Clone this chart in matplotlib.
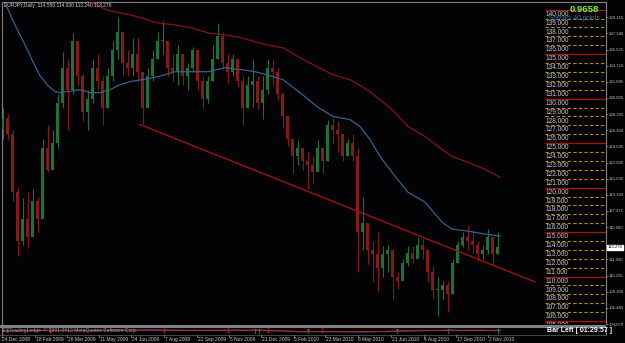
import matplotlib
matplotlib.use("Agg")
import matplotlib.pyplot as plt
from matplotlib.patches import Rectangle
from matplotlib.lines import Line2D

# ---------------- data (EURJPY, weekly-grouped candles) ----------------
first_open = 126.5
closes = [127.8, 126.0, 119.5, 114.0, 116.5, 114.5, 118.5, 116.5, 124.5, 122.0,
          125.0, 129.5, 133.5, 131.0, 136.5, 132.5, 128.5, 130.0, 133.5, 132.0,
          129.0, 132.5, 135.5, 137.5, 134.0, 133.5, 135.0, 133.0, 129.0, 132.5,
          134.5, 136.5, 136.5, 133.5, 133.0, 135.0, 132.5, 133.5, 135.5, 132.0,
          130.0, 132.0, 134.5, 137.0, 134.0, 133.0, 134.5, 132.0, 129.0, 131.5,
          132.0, 129.5, 131.0, 133.5, 133.0, 130.5, 128.0, 125.5, 123.5, 124.5,
          123.0, 122.5, 121.8, 124.5, 123.0, 127.0, 126.5, 126.0, 123.5, 125.0,
          123.5, 115.0, 116.0, 113.0, 112.5, 111.0, 112.5, 113.0, 110.0, 109.5,
          111.5, 112.7, 112.0, 113.5, 113.0, 110.5, 108.5, 108.5, 109.0, 108.0,
          111.5, 113.5, 114.5, 114.0, 113.5, 112.5, 113.0, 114.5, 112.5, 113.3]
highs = [128.9, 128.3, 126.5, 120.0, 118.8, 119.5, 119.8, 119.0, 125.5, 127.0,
         126.5, 130.5, 135.2, 134.5, 137.4, 136.5, 132.8, 131.0, 134.5, 135.0,
         132.5, 133.5, 136.5, 139.2, 137.5, 135.5, 136.8, 136.8, 133.0, 133.5,
         135.5, 137.5, 138.7, 136.5, 135.0, 136.0, 134.5, 134.0, 135.8, 135.5,
         132.5, 132.5, 136.0, 138.5, 137.5, 135.0, 135.0, 134.5, 132.5, 132.5,
         134.4, 132.5, 132.5, 134.5, 134.4, 133.5, 130.7, 127.5, 125.5, 125.3,
         124.5, 124.0, 123.5, 125.3, 124.5, 127.6, 127.8, 127.5, 126.0, 125.5,
         126.0, 124.5, 119.0, 115.0, 114.0, 115.0, 113.4, 113.5, 111.2, 110.5,
         112.0, 113.4, 113.4, 114.5, 114.2, 112.7, 111.2, 110.0, 109.5, 109.5,
         112.0, 114.0, 115.0, 115.7, 115.0, 114.0, 113.5, 115.3, 114.5, 115.0]
lows = [125.5, 125.3, 118.5, 112.3, 113.5, 113.3, 115.0, 115.0, 116.8, 121.8,
        122.5, 124.5, 129.0, 126.5, 130.5, 131.5, 127.5, 126.5, 129.5, 131.0,
        127.0, 129.0, 132.0, 134.5, 132.5, 132.5, 132.5, 132.0, 127.1, 129.5,
        132.0, 134.5, 135.0, 132.5, 132.0, 131.5, 131.5, 131.0, 133.0, 131.0,
        129.0, 129.5, 132.0, 134.5, 133.5, 131.8, 132.5, 131.3, 127.0, 129.0,
        129.1, 128.8, 127.7, 130.5, 131.5, 129.8, 126.8, 124.7, 121.7, 122.5,
        122.0, 119.8, 120.5, 122.0, 121.7, 123.0, 125.0, 124.0, 123.0, 123.5,
        123.0, 110.5, 113.0, 111.3, 109.4, 108.3, 110.0, 110.5, 107.5, 108.6,
        109.8, 111.2, 111.5, 112.3, 112.0, 109.4, 107.5, 105.6, 107.5, 106.0,
        108.0, 111.5, 113.3, 113.0, 112.7, 111.7, 112.0, 112.5, 111.3, 112.5]
days_per_candle = 5

# moving averages (day index, value)
ma_blue_day = [6, 15, 25, 33, 40, 48, 55, 60, 80, 90, 100, 110, 120, 130, 142, 158, 175, 192,
               208, 225, 242, 255, 267, 283, 300, 317, 333, 350, 360, 370, 380, 392, 408,
               425, 442, 452, 468, 485, 500]
ma_blue = [140.53, 138.29, 136.05, 134.15, 132.58, 131.46, 130.79, 130.68, 131.01, 130.68,
           130.68, 131.01, 131.57, 131.91, 132.13, 132.47, 133.03, 133.03, 133.03, 133.48,
           133.25, 133.03, 132.69, 132.13, 130.68, 129.11, 127.99, 127.65, 126.87, 125.41,
           123.51, 121.72, 119.48, 118.36, 116.12, 115.33, 115.11, 114.78, 114.55]
ma_red_day = [87, 107, 130, 142, 158, 175, 192, 208, 225, 242, 255, 267, 283, 300, 317, 333,
              350, 367, 380, 392, 408, 425, 442, 452, 468, 485, 500]
ma_red = [141.09, 139.97, 139.41, 139.07, 138.51, 138.29, 137.95, 137.39, 137.17, 136.83,
          136.39, 136.05, 135.71, 134.60, 133.59, 132.69, 132.13, 131.01, 129.89, 128.77,
          126.87, 125.75, 124.29, 123.51, 122.84, 122.05, 121.16]

# trend line (day, price)
trend_day = [140, 535]
trend_price = [127.09, 109.40]

level_prices = list(range(105, 141))

date_labels = ["24 Dec 2008", "18 Feb 2009", "26 Mar 2009", "11 May 2009", "24 Jun 2009",
               "7 Aug 2009", "22 Sep 2009", "5 Nov 2009", "21 Dec 2009", "5 Feb 2010",
               "23 Mar 2010", "6 May 2010", "21 Jun 2010", "4 Aug 2010", "17 Sep 2010",
               "2 Nov 2010"]
date_days = [0, 33, 65, 97, 129, 162, 195, 227, 259, 292, 323, 356, 389, 422, 454, 486]

scale_ticks = [104.670, 106.485, 108.300, 110.115, 111.930, 115.560, 117.375, 119.190,
               121.005, 122.820, 124.635, 126.450, 128.265, 130.080, 131.895, 133.710,
               135.525, 137.340, 139.155]
last_price = 113.270

osc_day = [0, 30, 60, 90, 120, 150, 180, 210, 240, 270, 300, 330, 360, 390, 420, 450, 480, 500]
osc_blue = [-0.2, 0.1, 0.3, 0.0, 0.2, 0.4, 0.3, 0.1, 0.3, 0.2, -0.5, -0.3, -0.6, -0.2, 0.0, 0.3, 0.1, 0.2]
osc_red = [0.0, 0.2, 0.1, 0.2, 0.4, 0.2, 0.1, 0.3, 0.2, 0.0, -0.3, -0.5, -0.4, -0.4, 0.2, 0.1, 0.3, 0.0]
arrow_down_days = [7, 50, 164, 228, 268, 322]
arrow_up_days = [255, 259, 308, 397, 448, 498]

# ---------------- figure ----------------
W, H = 625, 343
BG = '#030306'
GRID = '#808080'
fig = plt.figure(figsize=(W / 100, H / 100), dpi=100, facecolor=BG)

PX_PER_UNIT = 8.93
TOP_PRICE = 141.09


def py(y):
    return TOP_PRICE - y / PX_PER_UNIT


ax = fig.add_axes([2 / W, 1 - 324 / H, 604 / W, 322 / H], facecolor=BG)
ax.set_xlim(2, 606)
ax.set_ylim(py(324), py(2))

# candles
opens = [first_open] + closes[:-1]
bull_c, bear_c = '#1d7238', '#861a1a'
for i, (o, h, l, c) in enumerate(zip(opens, highs, lows, closes)):
    x = days_per_candle * i + days_per_candle / 2
    col = bull_c if c >= o else bear_c
    ax.vlines(x, l, h, color=col, lw=0.8, zorder=3)
    ax.bar(x, abs(c - o) if abs(c - o) > 0.05 else 0.1, width=3.6, bottom=min(o, c),
           color=col, edgecolor=col, lw=0, zorder=3)

ax.plot(ma_blue_day, ma_blue, color='#33628c', lw=0.9, zorder=4)
ax.plot(ma_red_day, ma_red, color='#8a1212', lw=0.9, zorder=4)
ax.plot(trend_day, trend_price, color='#b01212', lw=0.9, zorder=4)

# right-side level lines with labels
for p in level_prices:
    if p % 5 == 0:
        ax.hlines(p, 545, 606, color='#b01010', lw=0.9, zorder=2)
    else:
        ax.hlines(p, 545, 606, color='#b8860b', lw=0.8, linestyles=(0, (3, 2)), zorder=2)
    ax.text(546, p - 0.12, f"{p}.000", fontsize=4.7, color='#c8c8c8', va='top', ha='left',
            family='Liberation Sans', clip_on=True, zorder=5)

for s in ['bottom']:
    ax.spines[s].set_visible(False)
for s in ['left', 'right', 'top']:
    ax.spines[s].set_color(GRID)
    ax.spines[s].set_linewidth(0.8)
ax.set_xticks([])
ax.yaxis.tick_right()
ax.set_yticks(scale_ticks)
ax.set_yticklabels([f"{t:.3f}" for t in scale_ticks], family='Liberation Sans')
ax.tick_params(axis='y', length=1.5, width=0.6, color=GRID, labelsize=3.1, pad=0.6,
               labelcolor='#c0c0c0')

# current price marker
ax.annotate(f"{last_price:.3f}", xy=(1.0, last_price), xycoords=('axes fraction', 'data'),
            xytext=(1.2, 0), textcoords='offset points', fontsize=3.1, va='center',
            color='black', family='Liberation Sans',
            bbox=dict(boxstyle='square,pad=0.15', fc='white', ec='white'), annotation_clip=False)

# texts
fig.text(4 / W, 1 - 6 / H, "EURJPY,Daily  114.550 114.930 113.240 113.270", fontsize=3.5,
         color='#d0d0d0', va='center', family='Liberation Sans')
fig.text(599 / W, 1 - 10 / H, "0.9658", fontsize=6.8, fontweight='bold', color='#66ff22',
         ha='right', va='center', family='Liberation Sans')
fig.text(549 / W, 1 - 18.5 / H, "Spread: 40 points", fontsize=4.7, color='#3f6fa8',
         va='center', family='Liberation Sans')

# separator band
fig.add_artist(Rectangle((0, 1 - 327.5 / H), 606 / W, 2.5 / H, transform=fig.transFigure,
                         color=GRID, lw=0))

# sub window
sub = fig.add_axes([2 / W, 1 - 334 / H, 604 / W, 6.5 / H], facecolor=BG)
sub.set_xlim(2, 606)
sub.set_ylim(-1.5, 1.5)
sub.plot(osc_day, osc_blue, color='#2f5fd0', lw=0.7)
sub.plot(osc_day, osc_red, color='#c02020', lw=0.7)
sub.scatter(arrow_down_days, [0.4] * len(arrow_down_days), marker=r'$\downarrow$', s=14,
            color='#e02020', lw=0)
sub.scatter(arrow_up_days, [0.0] * len(arrow_up_days), marker=r'$\uparrow$', s=14,
            color='#30c030', lw=0)
sub.text(3, 0.2, "FXTradingLodge  © 2001-2010 MetaQuotes Software Corp.", fontsize=3.6,
         color='#9a9a9a', va='center', family='Liberation Sans')
sub.set_xticks([])
sub.set_yticks([])
for s in sub.spines.values():
    s.set_visible(False)
sub.spines['left'].set_visible(True)
sub.spines['left'].set_color(GRID)
sub.spines['right'].set_visible(True)
sub.spines['right'].set_color(GRID)

fig.add_artist(Line2D([0, 606 / W], [1 - 334.5 / H] * 2, transform=fig.transFigure,
                      color='#505050', lw=0.6))

# date axis
for d, lab in zip(date_days, date_labels):
    fx = (d + 2) / W
    fig.add_artist(Line2D([fx, fx], [1 - 334.5 / H, 1 - 336.5 / H], transform=fig.transFigure,
                          color=GRID, lw=0.6))
    fig.text(fx + 0.5 / W, 1 - 339.5 / H, lab, fontsize=3.5, color='#c8c8c8', va='center',
             ha='left', family='Liberation Sans')

fig.text(547 / W, 1 - 331 / H, "Bar Left [ 01:29:57 ]", fontsize=5.0, fontweight='bold',
         color='white', va='center', family='Liberation Sans')

fig.savefig("out.png", dpi=100, facecolor=BG)
